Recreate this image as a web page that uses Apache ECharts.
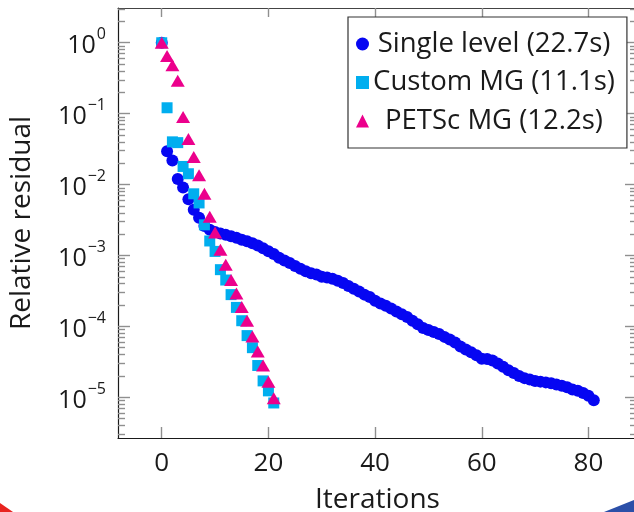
<!DOCTYPE html>
<html>
<head>
<meta charset="utf-8">
<script src="https://cdn.jsdelivr.net/npm/echarts@6/dist/echarts.min.js"></script>
<style>html,body{margin:0;padding:0;background:#fff}#c{width:634px;height:512px}</style>
</head>
<body>
<div id="c"></div>
<script>
// ---- data ----
const seriesNames = ['Single level (22.7s)', 'Custom MG (11.1s)', 'PETSc MG (12.2s)'];
const singleLevel = [1, 0.0295, 0.0219, 0.0120, 0.0091, 0.0062, 0.0044, 0.0034, 0.0026, 0.0023,
  0.00214, 0.00204, 0.00195, 0.00186, 0.00178, 0.00166, 0.00158, 0.00148, 0.00138, 0.00126,
  0.00115, 0.00105, 0.00093, 0.00085, 0.00078, 0.00071, 0.00065, 0.00060, 0.00056, 0.00054,
  0.00050, 0.00049, 0.00047, 0.00044, 0.00041, 0.00037, 0.00034, 0.00031, 0.00028, 0.00026,
  0.00023, 0.00021, 0.000195, 0.000178, 0.000162, 0.000148, 0.000135, 0.00012, 0.000107, 0.000095,
  0.000089, 0.000083, 0.000078, 0.000071, 0.000065, 0.000059, 0.000052, 0.000047, 0.000043, 0.000039,
  0.000035, 0.0000347, 0.000033, 0.000030, 0.000027, 0.000024, 0.000022, 0.000020, 0.0000186, 0.0000178,
  0.0000170, 0.0000166, 0.0000162, 0.0000158, 0.0000151, 0.0000145, 0.0000138, 0.0000129, 0.0000123, 0.0000115,
  0.0000105, 0.0000091];
const customMG = [1, 0.121, 0.040, 0.039, 0.018, 0.0142, 0.0074, 0.0055, 0.0027, 0.0016,
  0.00114, 0.00063, 0.00045, 0.00028, 0.000185, 0.00012, 0.000074, 0.000050, 0.000028, 0.000017,
  0.0000123, 0.0000083];
const petscMG = [1, 0.65, 0.48, 0.29, 0.09, 0.044, 0.0245, 0.0135, 0.0074, 0.0035,
  0.0021, 0.0012, 0.00074, 0.00045, 0.00029, 0.000187, 0.00012, 0.000072, 0.000044, 0.000028,
  0.0000166, 0.0000097];
const xTicks = [0, 20, 40, 60, 80];
const yMajorTicks = [1e-5, 1e-4, 1e-3, 1e-2, 1e-1, 1];
const yMinorTicks = [
  3e-6, 4e-6, 5e-6, 6e-6, 7e-6, 8e-6, 9e-6,
  2e-5, 3e-5, 4e-5, 5e-5, 6e-5, 7e-5, 8e-5, 9e-5,
  2e-4, 3e-4, 4e-4, 5e-4, 6e-4, 7e-4, 8e-4, 9e-4,
  2e-3, 3e-3, 4e-3, 5e-3, 6e-3, 7e-3, 8e-3, 9e-3,
  2e-2, 3e-2, 4e-2, 5e-2, 6e-2, 7e-2, 8e-2, 9e-2,
  0.2, 0.3, 0.4, 0.5, 0.6, 0.7, 0.8, 0.9,
  2, 3];
const xRange = [-8.2, 89.1];
const yRange = [Math.pow(10, -5.575), Math.pow(10, 0.49)];

// ---- chart ----
const FONT = 'Open Sans';
const TXT = '#1a1a1a';
const TICK = '#8f8f8f';
const AXIS = '#1a1a1a';
const colors = ['#0606f2', '#00aeef', '#ec008c'];

const toXY = arr => arr.map((v, i) => [i, v]);

function supLabel(v) {
  const e = Math.round(Math.log10(v));
  const s = e < 0 ? '\u2212' + (-e) : String(e);
  return '{b|10}{s|' + s + '}';
}

function yAxis(position, ticks, len, withLabels, showLine) {
  const ax = {
    type: 'log', logBase: 10, gridIndex: 0, position: position,
    min: yRange[0], max: yRange[1],
    axisLine: { show: showLine, onZero: false, lineStyle: { color: AXIS, width: 1.2 } },
    axisTick: { show: true, inside: true, length: len, customValues: ticks, lineStyle: { color: TICK, width: 1.4 } },
    axisLabel: { show: false },
    splitLine: { show: false },
    minorTick: { show: false }
  };
  if (withLabels) {
    ax.axisLabel = {
      show: true, customValues: yMajorTicks, margin: 12,
      formatter: supLabel,
      rich: {
        b: { fontFamily: FONT, fontSize: 25, color: TXT, verticalAlign: 'bottom', lineHeight: 32 },
        s: { fontFamily: FONT, fontSize: 16, color: TXT, verticalAlign: 'top', lineHeight: 32, padding: [0, 0, 0, 1] }
      }
    };
    ax.name = 'Relative residual';
    ax.nameLocation = 'middle';
    ax.nameGap = 82;
    ax.nameTextStyle = { fontFamily: FONT, fontSize: 28, color: TXT };
  }
  return ax;
}

const chart = echarts.init(document.getElementById('c'), null, { renderer: 'canvas' });
chart.setOption({
  animation: false,
  backgroundColor: '#fff',
  grid: { left: 118, top: 8, width: 519, height: 430, containLabel: false, outerBoundsMode: 'none' },
  xAxis: [
    {
      type: 'value', position: 'bottom', min: xRange[0], max: xRange[1],
      axisLine: { onZero: false, lineStyle: { color: AXIS, width: 1.2 } },
      axisTick: { inside: true, length: 11, customValues: xTicks, lineStyle: { color: TICK, width: 1.4 } },
      axisLabel: { customValues: xTicks, margin: 13, fontFamily: FONT, fontSize: 26, color: TXT },
      splitLine: { show: false },
      name: 'Iterations', nameLocation: 'middle', nameGap: 48,
      nameTextStyle: { fontFamily: FONT, fontSize: 28, color: TXT }
    },
    {
      type: 'value', position: 'top', min: xRange[0], max: xRange[1], gridIndex: 0,
      axisLine: { onZero: false, lineStyle: { color: '#444', width: 1.2 } },
      axisTick: { inside: true, length: 9, customValues: xTicks, lineStyle: { color: TICK, width: 1.4 } },
      axisLabel: { show: false },
      splitLine: { show: false }
    }
  ],
  yAxis: [
    yAxis('left', yMajorTicks, 12, true, true),
    yAxis('left', yMinorTicks, 7, false, false),
    yAxis('right', yMajorTicks, 12, false, true),
    yAxis('right', yMinorTicks, 7, false, false)
  ],
  legend: {
    orient: 'vertical', left: 348, top: 17,
    padding: [12, 12, 12, 8], itemGap: 8.5,
    backgroundColor: '#fff', borderColor: '#333', borderWidth: 1.2,
    itemWidth: 13, itemHeight: 13,
    data: [
      { name: seriesNames[0], icon: 'circle' },
      { name: seriesNames[1], icon: 'rect' },
      { name: seriesNames[2], icon: 'triangle' }
    ],
    formatter: n => '{t|' + n + '}',
    textStyle: {
      lineHeight: 30, fontSize: 27.5, fontFamily: FONT,
      rich: { t: { width: 240, align: 'center', fontFamily: FONT, fontSize: 27.5, color: TXT, lineHeight: 30, height: 30 } }
    }
  },
  series: [
    { name: seriesNames[0], type: 'scatter', data: toXY(singleLevel), symbol: 'circle', symbolSize: 12,
      itemStyle: { color: colors[0], opacity: 1 }, xAxisIndex: 0, yAxisIndex: 0 },
    { name: seriesNames[1], type: 'scatter', data: toXY(customMG), symbol: 'rect', symbolSize: 11,
      itemStyle: { color: colors[1], opacity: 1 }, xAxisIndex: 0, yAxisIndex: 0 },
    { name: seriesNames[2], type: 'scatter', data: toXY(petscMG), symbol: 'triangle', symbolSize: [14, 12],
      itemStyle: { color: colors[2], opacity: 1 }, xAxisIndex: 0, yAxisIndex: 0 }
  ],
  graphic: [
    { type: 'polygon', shape: { points: [[0, 503], [0, 512], [13, 512]] }, style: { fill: '#e8231f' }, z: -1 },
    { type: 'polygon', shape: { points: [[604, 512], [634, 500], [634, 512]] }, style: { fill: '#2b4fa8' }, z: -1 }
  ]
});
</script>
</body>
</html>
